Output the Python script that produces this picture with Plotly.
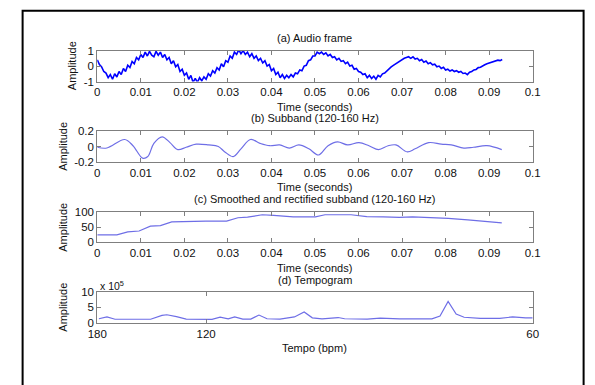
import numpy as np
import plotly.graph_objects as go

# ---------------- data ----------------
# (a) audio frame, sampled every 0.5 ms
audio_step = 0.0005
audio_amp = [
    0.4, 0.1, -0.05, -0.35, -0.45, -0.75, -0.55, -0.85, -0.5, -0.7,
    -0.35, -0.55, -0.15, -0.35, 0.05, -0.1, 0.3, 0.15, 0.55, 0.4,
    0.75, 0.55, 0.9, 0.65, 0.95, 0.7, 0.6, 0.95, 0.7, 0.9,
    0.55, 0.75, 0.4, 0.55, 0.15, 0.35, -0.05, 0.1, -0.35, -0.2,
    -0.6, -0.45, -0.85, -0.6, -1.05, -0.8, -1.05, -0.75, -0.95, -0.7,
    -0.85, -0.5, -0.65, -0.3, -0.45, -0.1, -0.25, 0.15, -0.05, 0.35,
    0.25, 0.65, 0.5, 0.9, 0.75, 1.05, 0.8, 1.0, 0.75, 0.9,
    0.6, 0.8, 0.5, 0.65, 0.35, 0.5, 0.2, 0.35, 0.0, 0.1,
    -0.3, -0.15, -0.55, -0.4, -0.75, -0.55, -0.8, -0.6, -0.75, -0.55,
    -0.7, -0.45, -0.5, -0.25, -0.3, 0.0, 0.05, 0.35, 0.4, 0.65,
    0.65, 0.9, 0.8, 0.9, 0.75, 0.85, 0.65, 0.75, 0.55, 0.6,
    0.4, 0.5, 0.3, 0.35, 0.15, 0.25, 0.0, 0.05, -0.2, -0.15,
    -0.35, -0.4, -0.55, -0.5, -0.75, -0.6, -0.8, -0.65, -0.85, -0.6,
    -0.7, -0.5, -0.45, -0.3, -0.2, -0.05, 0.05, 0.15, 0.25, 0.35,
    0.45, 0.5, 0.55, 0.6, 0.5, 0.6, 0.45, 0.5, 0.35, 0.42,
    0.25, 0.32, 0.15, 0.22, 0.08, 0.12, -0.05, 0.0, -0.15, -0.08,
    -0.25, -0.2, -0.32, -0.25, -0.35, -0.3, -0.4, -0.35, -0.48, -0.45,
    -0.55, -0.4, -0.35, -0.25, -0.22, -0.1, -0.08, 0.03, 0.08, 0.15,
    0.2, 0.25, 0.3, 0.32, 0.38, 0.35, 0.42,
]
audio_t = np.arange(len(audio_amp)) * audio_step

# (b) subband 120-160 Hz
sub_t = [0.0, 0.0022, 0.0063, 0.0082, 0.0104, 0.0116, 0.013, 0.0149, 0.0167,
         0.0185, 0.0204, 0.0227, 0.0256, 0.0278, 0.0293, 0.0312, 0.033, 0.0352,
         0.0374, 0.0396, 0.0419, 0.0441, 0.0463, 0.0486, 0.0508, 0.053, 0.0552,
         0.0575, 0.0601, 0.0624, 0.0646, 0.0668, 0.0686, 0.0712, 0.073, 0.0761,
         0.079, 0.0813, 0.0842, 0.0864, 0.0895, 0.0929]
sub_amp = [-0.01, -0.02, 0.09, 0.01, -0.15, -0.13, 0.04, 0.125, 0.05,
           -0.04, -0.01, 0.03, 0.02, 0.0, -0.07, -0.13, -0.03, 0.09,
           0.04, 0.01, 0.02, -0.02, 0.02, -0.03, -0.11, 0.01, 0.06,
           0.02, 0.05, 0.01, -0.04, 0.01, 0.02, -0.07, -0.03, 0.05,
           0.03, 0.02, -0.02, -0.01, 0.01, -0.04]

# (c) smoothed and rectified subband
env_t = [0.0, 0.0045, 0.007, 0.0096, 0.0122, 0.0145, 0.0171, 0.0211, 0.0249,
         0.0297, 0.0323, 0.0345, 0.0379, 0.0405, 0.045, 0.0501, 0.0523, 0.0583,
         0.0619, 0.0657, 0.0694, 0.0724, 0.0768, 0.0806, 0.0851, 0.0929]
env_amp = [25, 25, 35, 38, 54, 56, 68, 70, 71,
           71, 82, 84, 92, 90, 85, 85, 92, 92,
           86, 85, 83, 85, 83, 80, 75, 65]

# (d) tempogram: lag (s) and amplitude (x 10^5)
tempo_lag = [0.3358, 0.3482, 0.3605, 0.4150, 0.4324, 0.4398, 0.4546, 0.4695,
             0.5090, 0.5214, 0.5338, 0.5437, 0.5561, 0.5684, 0.5809, 0.5932,
             0.6130, 0.6352, 0.6501, 0.6626, 0.6774, 0.6923, 0.7021, 0.7120,
             0.7466, 0.7665, 0.7963, 0.8457, 0.8581, 0.8705, 0.8828, 0.8950,
             0.9198, 0.9495, 0.9693, 0.9891, 1.0]
tempo_amp = [1.3, 1.9, 1.15, 1.15, 2.4, 2.6, 2.0, 1.2,
             1.1, 1.8, 1.3, 1.9, 1.2, 1.2, 2.5, 1.3,
             1.2, 1.9, 3.5, 1.6, 1.3, 1.5, 1.7, 1.3,
             1.2, 1.5, 1.3, 1.3, 2.2, 6.9, 2.8, 1.8,
             1.4, 1.4, 1.9, 1.6, 1.6]
tempo_tickvals = [60 / 180, 60 / 120, 60 / 60]
tempo_ticktext = ["180", "120", "60"]

titles = ["(a) Audio frame", "(b) Subband (120-160 Hz)",
          "(c) Smoothed and rectified subband (120-160 Hz)", "(d) Tempogram"]
xlabels = ["Time (seconds)", "Time (seconds)", "Time (seconds)", "Tempo (bpm)"]

# ---------------- layout helpers ----------------
W, H = 595, 385
FONT = "Liberation Sans, Arial, sans-serif"
px_x = lambda x: x / W
px_y = lambda y: 1 - y / H

plot_left, plot_right = 90, 539
panels_px = [(46, 78), (129, 161), (213, 244), (295, 327)]
title_y = [33, 116, 199, 283]
xlabel_y = [104, 187, 270, 353]
ylabel_x = [64, 55, 55, 55]

fig = go.Figure()
line_light = "#6e6ee6"
fig.add_trace(go.Scatter(x=audio_t, y=audio_amp, mode="lines",
                         line=dict(color="#0000ff", width=1.6), xaxis="x", yaxis="y"))
fig.add_trace(go.Scatter(x=sub_t, y=sub_amp, mode="lines", line_shape="spline",
                         line=dict(color=line_light, width=1.2), xaxis="x2", yaxis="y2"))
fig.add_trace(go.Scatter(x=env_t, y=env_amp, mode="lines",
                         line=dict(color=line_light, width=1.2), xaxis="x3", yaxis="y3"))
fig.add_trace(go.Scatter(x=tempo_lag, y=tempo_amp, mode="lines",
                         line=dict(color=line_light, width=1.2), xaxis="x4", yaxis="y4"))

axis_common = dict(showline=True, linecolor="#7f7f7f", linewidth=1, mirror="ticks",
                   ticks="inside", ticklen=4, tickcolor="#7f7f7f", showgrid=False,
                   zeroline=False, tickfont=dict(family=FONT, size=11.5, color="#111"),
                   fixedrange=True)

yranges = [[-1, 1], [-0.2, 0.2], [0, 100], [0, 10]]
ytickvals = [[-1, 0, 1], [-0.2, 0, 0.2], [0, 50, 100], [0, 5, 10]]
yticktext = [["-1", "0", "1"], ["-0.2", "0", "0.2"], ["0", "50", "100"], ["0", "5", "10"]]

layout = dict(width=W, height=H, margin=dict(l=0, r=0, t=0, b=0),
              paper_bgcolor="white", plot_bgcolor="white", showlegend=False)
annotations = []
for i, (top, bot) in enumerate(panels_px):
    sfx = "" if i == 0 else str(i + 1)
    xd = [px_x(plot_left), px_x(plot_right)]
    yd = [px_y(bot), px_y(top)]
    if i < 3:
        xa = dict(axis_common, domain=xd, range=[0, 0.1], tickmode="array",
                  tickvals=[k / 100 for k in range(11)],
                  ticktext=["0"] + ["0.%02d" % k for k in range(1, 10)] + ["0.1"],
                  anchor="y" + sfx)
    else:
        xa = dict(axis_common, domain=xd, range=[1 / 3, 1], tickmode="array",
                  tickvals=tempo_tickvals, ticktext=tempo_ticktext, anchor="y" + sfx)
    ya = dict(axis_common, domain=yd, range=yranges[i], tickmode="array",
              tickvals=ytickvals[i], ticktext=yticktext[i], anchor="x" + sfx)
    layout["xaxis" + sfx] = xa
    layout["yaxis" + sfx] = ya
    cx = (plot_left + plot_right) / 2
    annotations.append(dict(text=titles[i], x=px_x(cx), y=px_y(title_y[i]),
                            xref="paper", yref="paper", showarrow=False,
                            xanchor="center", yanchor="middle",
                            font=dict(family=FONT, size=11, color="#111")))
    annotations.append(dict(text=xlabels[i], x=px_x(cx), y=px_y(xlabel_y[i]),
                            xref="paper", yref="paper", showarrow=False,
                            xanchor="center", yanchor="middle",
                            font=dict(family=FONT, size=11, color="#111")))
    annotations.append(dict(text="Amplitude", x=px_x(ylabel_x[i]), y=px_y((top + bot) / 2),
                            xref="paper", yref="paper", showarrow=False, textangle=-90,
                            xanchor="center", yanchor="middle",
                            font=dict(family=FONT, size=11, color="#111")))

annotations.append(dict(text="x 10<sup>5</sup>", x=px_x(91), y=px_y(288),
                        xref="paper", yref="paper", showarrow=False,
                        xanchor="left", yanchor="middle",
                        font=dict(family=FONT, size=10.5, color="#111")))
layout["annotations"] = annotations
layout["shapes"] = [dict(type="rect", xref="paper", yref="paper",
                         x0=px_x(13), x1=px_x(591.5), y0=-0.1, y1=px_y(5),
                         line=dict(color="black", width=2), fillcolor="rgba(0,0,0,0)")]
fig.update_layout(**layout)
fig.write_html("out.html", config={"displayModeBar": False},
               post_script="document.body.style.margin='0';document.body.style.overflow='hidden';")
